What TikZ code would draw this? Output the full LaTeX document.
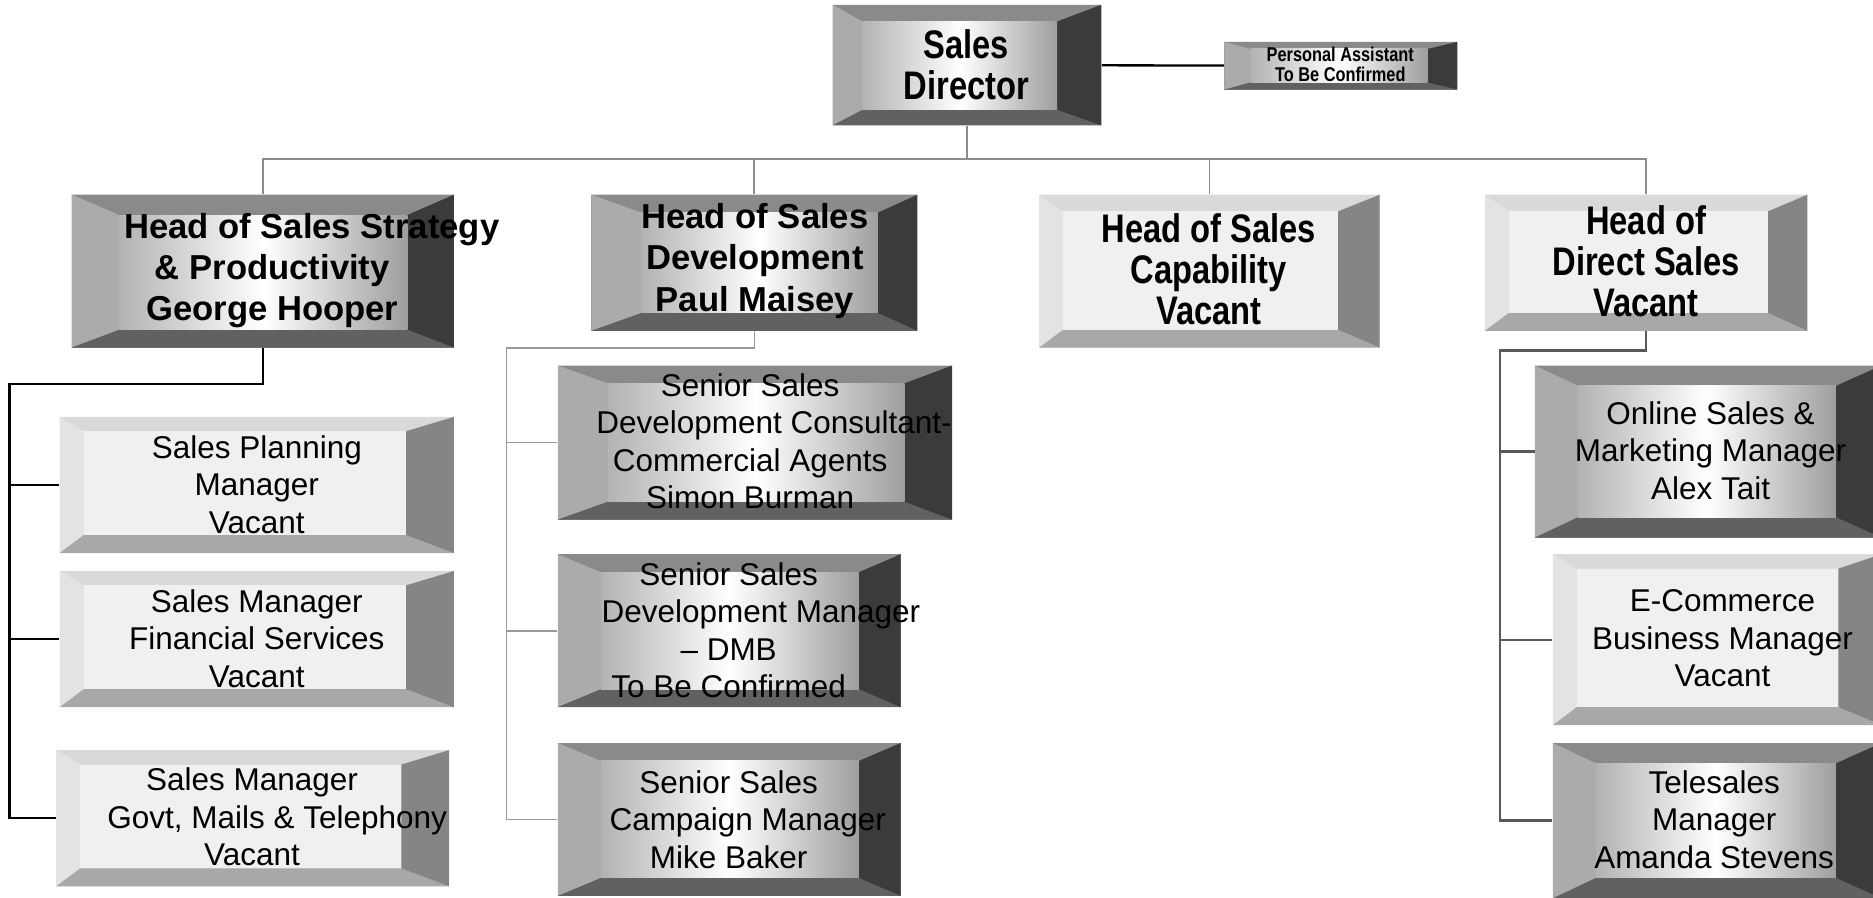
\documentclass[tikz,border=0pt]{standalone}
\usepackage{fontspec}
\setmainfont{Liberation Sans}
\newfontfamily\narrowsans[FakeStretch=0.82]{Liberation Sans}
\usetikzlibrary{calc}

\tikzset{
  boxsize/.style 2 args={minimum width=#1*0.02cm, minimum height=#2*0.02cm, inner sep=0pt},
  % bevelled frame: left, right, top, bottom face widths
  darkbox/.style n args={4}{fill=black!45, path picture={
      \coordinate (bnw) at (path picture bounding box.north west);
      \coordinate (bse) at (path picture bounding box.south east);
      \coordinate (inw) at ($(bnw)+(#1,#3)$);
      \coordinate (ise) at ($(bse)+(-#2,-#4)$);
      \fill[black!46] (bnw) -- (bnw -| bse) -- (inw -| ise) -- (inw) -- cycle;
      \fill[black!33] (bnw) -- (inw) -- (inw |- ise) -- (bnw |- bse) -- cycle;
      \fill[black!62] (bnw |- bse) -- (bse) -- (ise) -- (inw |- ise) -- cycle;
      \fill[black!77] (bnw -| bse) -- (bse) -- (ise) -- (inw -| ise) -- cycle;
      \shade[left color=black!30, right color=black!38, middle color=white] (inw) rectangle (ise);
    }},
  lightbox/.style n args={4}{fill=black!10, path picture={
      \coordinate (bnw) at (path picture bounding box.north west);
      \coordinate (bse) at (path picture bounding box.south east);
      \coordinate (inw) at ($(bnw)+(#1,#3)$);
      \coordinate (ise) at ($(bse)+(-#2,-#4)$);
      \fill[black!15] (bnw) -- (bnw -| bse) -- (inw -| ise) -- (inw) -- cycle;
      \fill[black!11] (bnw) -- (inw) -- (inw |- ise) -- (bnw |- bse) -- cycle;
      \fill[black!34] (bnw |- bse) -- (bse) -- (ise) -- (inw |- ise) -- cycle;
      \fill[black!48] (bnw -| bse) -- (bse) -- (ise) -- (inw -| ise) -- cycle;
      \fill[black!6] (inw) rectangle (ise);
    }},
  toptxt/.style={font=\narrowsans\bfseries\fontsize{19}{19.6}\selectfont, align=center, inner sep=0pt},
  headtxt/.style={font=\bfseries\fontsize{16.5}{19.6}\selectfont, align=center, inner sep=0pt},
  subtxt/.style={font=\fontsize{15}{17.9}\selectfont, align=center, inner sep=0pt},
  patxt/.style={font=\narrowsans\bfseries\fontsize{9.5}{9.6}\selectfont, align=center, inner sep=0pt}
}

\begin{document}
\begin{tikzpicture}[x=0.02cm, y=-0.02cm,
    busline/.style={draw=black!45, line width=0.9pt},
    blackline/.style={draw=black, line width=1.1pt},
    greyline/.style={draw=black!40, line width=0.8pt},
    darkline/.style={draw=black!65, line width=1.1pt}]
  \useasboundingbox (0,0) rectangle (1568,751);

  % director and assistant
  \node[boxsize={225}{101}, darkbox={25}{37}{14}{13}] (dir) at (809.5,54.5) {};
  \node[boxsize={195}{40}, darkbox={22}{25}{6}{6}] (pa) at (1122.5,55) {};
  \node[toptxt] (dirt) at (809,54) {Sales\\Director};
  \node[patxt] (pat) at (1122,54) {Personal Assistant\\To Be Confirmed};

  % heads
  \node[boxsize={320}{128}, darkbox={40}{39}{17}{15}] (h1) at (220,227) {};
  \node[boxsize={273}{114}, darkbox={42}{33}{15}{15}] (h2) at (631.5,220) {};
  \node[boxsize={285}{128}, lightbox={20}{35}{14}{15}] (h3) at (1012.5,227) {};
  \node[boxsize={270}{114}, lightbox={20}{33}{14}{15}] (h4) at (1378,220) {};
  \node[headtxt] (h1t) at (228,226.5) {\hspace*{1.32cm}Head of Sales Strategy\\\& Productivity\\George Hooper};
  \node[headtxt] (h2t) at (632,218.5) {Head of Sales\\Development\\Paul Maisey};
  \node[toptxt] (h3t) at (1012,225.5) {Head of Sales\\Capability\\Vacant};
  \node[toptxt] (h4t) at (1378,219) {Head of\\Direct Sales\\Vacant};

  % strategy team
  \node[boxsize={330}{114}, lightbox={20}{40}{12}{15}] (c1) at (215,406) {};
  \node[boxsize={330}{114}, lightbox={20}{40}{12}{15}] (c2) at (215,535) {};
  \node[boxsize={329}{114}, lightbox={20}{40}{12}{15}] (c3) at (211.5,685) {};
  \node[subtxt] (c1t) at (215,405.5) {Sales Planning\\Manager\\Vacant};
  \node[subtxt] (c2t) at (215,534.5) {Sales Manager\\Financial Services\\Vacant};
  \node[subtxt] (c3t) at (211,684) {Sales Manager\\\hspace*{0.84cm}Govt, Mails \& Telephony\\Vacant};

  % development team
  \node[boxsize={330}{129}, darkbox={42}{40}{15}{15}] (m1) at (632,370.5) {};
  \node[boxsize={287}{128}, darkbox={36}{35}{15}{15}] (m2) at (610.5,528) {};
  \node[boxsize={287}{128}, darkbox={36}{35}{15}{15}] (m3) at (610.5,686) {};
  \node[subtxt] (m1t) at (628,369.5) {Senior Sales\\\hspace*{0.8cm}Development Consultant-\\Commercial Agents\\Simon Burman};
  \node[subtxt] (m2t) at (610,527.5) {Senior Sales\\\hspace*{1.08cm}Development Manager\\-- DMB\\To Be Confirmed};
  \node[subtxt] (m3t) at (610,686) {Senior Sales\\\hspace*{0.64cm}Campaign Manager\\Mike Baker};

  % direct sales team
  \node[boxsize={290}{144}, darkbox={36}{38}{17}{17}] (r1) at (1430,378) {};
  \node[boxsize={275}{143}, lightbox={20}{36}{12}{15}] (r2) at (1437.5,535.5) {};
  \node[boxsize={275}{130}, darkbox={36}{38}{17}{17}] (r3) at (1437.5,687) {};
  \node[subtxt] (r1t) at (1432,377) {Online Sales \&\\Marketing Manager\\Alex Tait};
  \node[subtxt] (r2t) at (1442,534.5) {E-Commerce\\Business Manager\\Vacant};
  \node[subtxt] (r3t) at (1435,686) {Telesales\\Manager\\Amanda Stevens};

  % connectors
  \draw[blackline] (dir) -- (pa);
  \coordinate (bus) at ($(dir.south)+(0,28)$);
  \draw[busline] (dir.south) -- (bus);
  \foreach \h in {h1,h2,h3,h4}
    \draw[busline] (bus) -| (\h.north);

  \coordinate (lspine) at ($(h1.south)+(-212,30)$);
  \draw[blackline] (h1.south) |- (lspine) -- (lspine |- c3.west) -- (c3.west);
  \foreach \c in {c1,c2}
    \draw[blackline] (lspine |- \c.west) -- (\c.west);

  \coordinate (mspine) at ($(h2.south)+(-207.5,14)$);
  \draw[greyline] (h2.south) |- (mspine) -- (mspine |- m3.west) -- (m3.west);
  \foreach \m in {m1,m2}
    \draw[greyline] (mspine |- \m.west) -- (\m.west);

  \coordinate (rspine) at ($(h4.south)+(-122,16)$);
  \draw[darkline] (h4.south) |- (rspine) -- (rspine |- r3.west) -- (r3.west);
  \foreach \r in {r1,r2}
    \draw[darkline] (rspine |- \r.west) -- (\r.west);
\end{tikzpicture}
\end{document}
